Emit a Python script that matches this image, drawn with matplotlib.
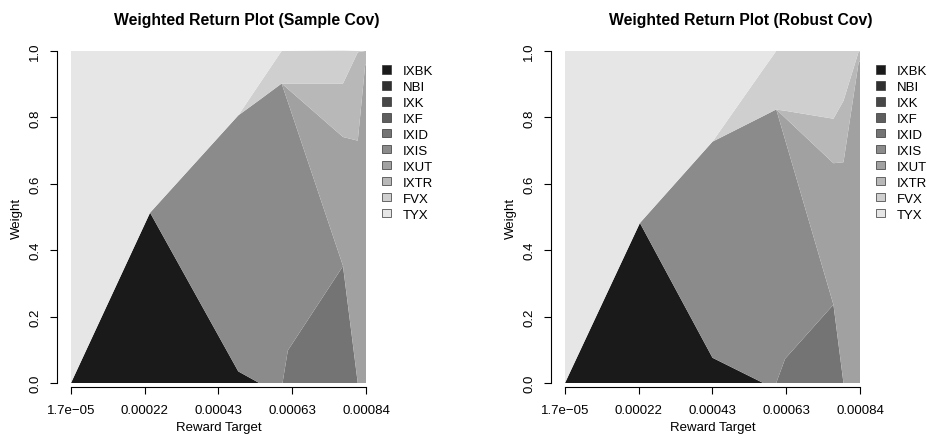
import numpy as np
import matplotlib
matplotlib.use("Agg")
import matplotlib.pyplot as plt
from matplotlib.patches import Patch

plt.rcParams['font.family'] = ['Liberation Sans', 'DejaVu Sans']

# ---------------- data ----------------
assets = ["IXBK", "NBI", "IXK", "IXF", "IXID", "IXIS", "IXUT", "IXTR", "FVX", "TYX"]
tick_labels = ["1.7e\u221205", "0.00022", "0.00043", "0.00063", "0.00084"]
reward_min = 0.000017
reward_max = 0.00084

# Sample covariance panel
target_sample = [0.0000170, 0.0002376, 0.0004836, 0.0005421, 0.0006046, 0.0006071,
                 0.0006219, 0.0007758, 0.0008170, 0.0008375, 0.0008400]
sample_IXBK = [0, 0.513, 0.035, 0, 0, 0, 0, 0, 0, 0, 0]
sample_NBI = [0, 0, 0, 0, 0, 0, 0, 0, 0, 0, 0]
sample_IXK = [0, 0, 0, 0, 0, 0, 0, 0, 0, 0, 0]
sample_IXF = [0, 0, 0, 0, 0, 0, 0, 0, 0, 0, 0]
sample_IXID = [0, 0, 0, 0, 0, 0, 0.098, 0.352, 0, 0, 0]
sample_IXIS = [0, 0, 0.771, 0.852, 0.902, 0.894, 0.749, 0.001, 0, 0, 0]
sample_IXUT = [0, 0, 0, 0, 0, 0.006, 0.039, 0.388, 0.730, 0.956, 0.960]
sample_IXTR = [0, 0, 0, 0, 0, 0.002, 0.016, 0.161, 0.266, 0.044, 0.040]
sample_FVX = [0, 0, 0, 0.048, 0.098, 0.098, 0.098, 0.099, 0.004, 0, 0]
sample_TYX = [1, 0.487, 0.194, 0.100, 0, 0, 0, 0, 0, 0, 0]

# Robust covariance panel
target_robust = [0.0000170, 0.0002260, 0.0004285, 0.0005701, 0.0006063, 0.0006096,
                 0.0006310, 0.0007659, 0.0007939, 0.0008359, 0.0008400]
robust_IXBK = [0, 0.482, 0.076, 0, 0, 0, 0, 0, 0, 0, 0]
robust_NBI = [0, 0, 0, 0, 0, 0, 0, 0, 0, 0, 0]
robust_IXK = [0, 0, 0, 0, 0, 0, 0, 0, 0, 0, 0]
robust_IXF = [0, 0, 0, 0, 0, 0, 0, 0, 0, 0, 0]
robust_IXID = [0, 0, 0, 0, 0, 0.010, 0.073, 0.236, 0, 0, 0]
robust_IXIS = [0, 0, 0.651, 0.804, 0.824, 0.802, 0.660, 0, 0, 0, 0]
robust_IXUT = [0, 0, 0, 0, 0, 0.009, 0.066, 0.426, 0.665, 0.964, 0.970]
robust_IXTR = [0, 0, 0, 0, 0, 0.002, 0.021, 0.134, 0.185, 0.033, 0.030]
robust_FVX = [0, 0, 0, 0.141, 0.176, 0.177, 0.180, 0.204, 0.150, 0.003, 0]
robust_TYX = [1, 0.518, 0.273, 0.055, 0, 0, 0, 0, 0, 0, 0]

# ---------------- style ----------------
greys = [str(round(g, 3)) for g in np.linspace(0.1, 0.9, 10)]
FS = 9.5
W, H = 928, 435

fig = plt.figure(figsize=(W / 100, H / 100), dpi=100)


def px_axes(x0, y_top, w, h):
    return fig.add_axes([x0 / W, 1 - (y_top + h) / H, w / W, h / H])


def draw_panel(x_off, target, series, title):
    ax = px_axes(57 + x_off, 48, 379, 340)
    span = reward_max - reward_min
    left = reward_min + span * (-14 / 295)
    right = reward_min + span * (365 / 295)
    ax.stackplot(target, *series, colors=greys, linewidth=0, antialiased=True)
    ax.set_xlim(left, right)
    ax.set_ylim(-4 / 332, 1 + 4 / 332)
    for s in ("top", "right"):
        ax.spines[s].set_visible(False)
    ax.spines["left"].set_bounds(0, 1)
    ax.spines["bottom"].set_bounds(reward_min, reward_max)
    for s in ("left", "bottom"):
        ax.spines[s].set_linewidth(0.8)
    ax.set_xticks(np.linspace(reward_min, reward_max, 5))
    ax.set_xticklabels(tick_labels, fontsize=FS)
    ax.set_yticks([0, 0.2, 0.4, 0.6, 0.8, 1.0])
    ax.set_yticklabels(["0.0", "0.2", "0.4", "0.6", "0.8", "1.0"], fontsize=FS,
                       rotation=90, va="center")
    ax.tick_params(axis="both", length=5.2, width=0.8, direction="out")
    ax.tick_params(axis="x", pad=7)
    ax.tick_params(axis="y", pad=6)
    ax.set_facecolor("none")
    handles = [Patch(facecolor=c, edgecolor="#333333", linewidth=0.5) for c in greys]
    ax.legend(handles, assets, loc="upper left", bbox_to_anchor=(0.8575, 0.947),
              frameon=False, borderpad=0, borderaxespad=0, handlelength=0.72,
              handleheight=0.62, handletextpad=0.85, labelspacing=0.3, fontsize=FS)
    fig.text((246.5 + x_off) / W, 1 - 20 / H, title, ha="center", va="center",
             fontsize=11.3, fontweight="bold")
    fig.text((218.5 + x_off) / W, 1 - 428 / H, "Reward Target", ha="center",
             va="center", fontsize=FS)
    fig.text((17 + x_off) / W, 1 - 218 / H, "Weight", ha="center", va="center",
             rotation=90, fontsize=FS)
    return ax


draw_panel(0, target_sample,
           [sample_IXBK, sample_NBI, sample_IXK, sample_IXF, sample_IXID, sample_IXIS,
            sample_IXUT, sample_IXTR, sample_FVX, sample_TYX],
           "Weighted Return Plot (Sample Cov)")
draw_panel(494, target_robust,
           [robust_IXBK, robust_NBI, robust_IXK, robust_IXF, robust_IXID, robust_IXIS,
            robust_IXUT, robust_IXTR, robust_FVX, robust_TYX],
           "Weighted Return Plot (Robust Cov)")

fig.savefig("out.png", dpi=100)
